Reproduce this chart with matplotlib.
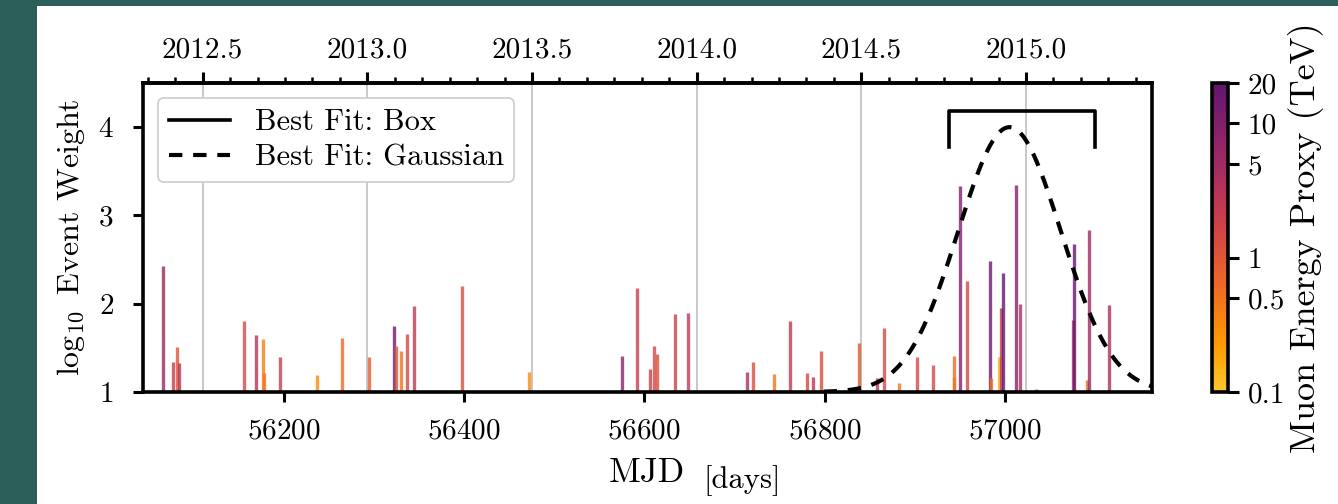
import matplotlib

matplotlib.use("Agg", force=True)
import matplotlib.pyplot as plt
import numpy as np
from matplotlib.colors import ListedColormap, LogNorm
from matplotlib.cm import ScalarMappable
from matplotlib.lines import Line2D
from matplotlib.patches import Rectangle
from matplotlib.ticker import FixedLocator, MultipleLocator, NullLocator

plt.rcParams["font.family"] = "serif"
plt.rcParams["font.serif"] = ["cmr10"]
plt.rcParams["mathtext.fontset"] = "cm"
plt.rcParams["axes.formatter.use_mathtext"] = True

# Events: arrival time, log10 weight and muon energy proxy
event_mjd = [
    56066, 56077, 56082, 56084, 56156, 56169, 56177, 56178, 56196, 56237,
    56265, 56295, 56322, 56325, 56330, 56337, 56344, 56398, 56472, 56575,
    56592, 56606, 56611, 56614, 56634, 56648, 56714, 56721, 56744, 56762,
    56780, 56787, 56796, 56838, 56858, 56866, 56882, 56902, 56920, 56943,
    56943, 56950, 56958, 56983, 56985, 56993, 56995, 56998, 57012, 57017,
    57034, 57075, 57077, 57091, 57093, 57115,
]
event_log_weight = [
    2.43, 1.34, 1.51, 1.33, 1.80, 1.65, 1.60, 1.22, 1.40, 1.19,
    1.61, 1.40, 1.75, 1.52, 1.47, 1.66, 1.97, 2.20, 1.23, 1.41,
    2.18, 1.26, 1.52, 1.43, 1.88, 1.89, 1.23, 1.34, 1.20, 1.80,
    1.21, 1.17, 1.47, 1.56, 1.16, 1.72, 1.10, 1.40, 1.31, 1.41,
    1.17, 3.33, 2.26, 2.48, 1.16, 1.40, 1.95, 2.35, 3.34, 2.00,
    1.03, 1.81, 2.68, 1.14, 2.83, 1.98,
]
event_energy_tev = [
    6.0, 2.0, 1.0, 3.0, 1.5, 3.0, 0.4, 0.5, 2.0, 0.3,
    0.6, 0.8, 15.0, 1.0, 0.5, 1.5, 2.5, 1.2, 0.3, 8.0,
    2.0, 2.0, 1.5, 1.2, 1.8, 2.5, 4.0, 1.2, 0.5, 2.5,
    1.5, 3.0, 1.2, 0.9, 3.0, 1.5, 0.5, 1.5, 1.5, 0.6,
    0.5, 10.0, 1.5, 15.0, 0.5, 0.15, 2.5, 18.0, 9.0, 4.0,
    1.0, 3.0, 18.0, 0.6, 5.0, 4.0,
]

# Best-fit flare parameters
box_start_mjd = 56938
box_end_mjd = 57100
gauss_center_mjd = 57005
gauss_sigma_days = 57
gauss_peak_log_weight = 4.0

bottom_ticks = [56200, 56400, 56600, 56800, 57000]
year_ticks = [2012.5, 2013.0, 2013.5, 2014.0, 2014.5, 2015.0]
energy_ticks = [0.1, 0.5, 1, 5, 10, 20]
energy_tick_labels = ["0.1", "0.5", "1", "5", "10", "20"]


def mjd_to_year(mjd):
    return 2000.0 + (np.asarray(mjd) - 51544.5) / 365.25


def year_to_mjd(year):
    return 51544.5 + (np.asarray(year) - 2000.0) * 365.25


cmap = ListedColormap(plt.cm.inferno(np.linspace(0.87, 0.28, 256)))
norm = LogNorm(vmin=0.1, vmax=20)

fig = plt.figure(figsize=(13.38, 5.04), dpi=100, facecolor="#2c5e5a")
fig.patches.append(
    Rectangle((37 / 1338, 0), 1, 498 / 504, transform=fig.transFigure,
              facecolor="white", edgecolor="none", zorder=-10)
)

ax = fig.add_axes([143 / 1338, 112 / 504, 1009 / 1338, 309 / 504])
ax.set_xlim(56044, 57163)
ax.set_ylim(1, 4.5)

for year in year_ticks:
    ax.axvline(year_to_mjd(year), color="#c8c8c8", lw=1.4, zorder=0)

ax.vlines(event_mjd, 1, event_log_weight,
          colors=cmap(norm(np.array(event_energy_tev))), lw=2.4, alpha=0.8, zorder=2)

# Box fit drawn as a bracket above the flare window
ax.plot([box_start_mjd, box_start_mjd, box_end_mjd, box_end_mjd],
        [3.77, 4.18, 4.18, 3.77], color="black", lw=2.6, zorder=4)

# Gaussian fit, hidden where it sits on the baseline
t = np.linspace(56044, 57163, 800)
gauss = 1 + (gauss_peak_log_weight - 1) * np.exp(-0.5 * ((t - gauss_center_mjd) / gauss_sigma_days) ** 2)
gauss = np.where(gauss - 1 > 0.004, gauss, np.nan)
ax.plot(t, gauss, color="black", lw=3.0, ls=(0, (3.2, 2.6)), zorder=4)

for side in ["left", "bottom", "right", "top"]:
    ax.spines[side].set_linewidth(2.6)
ax.xaxis.set_major_locator(FixedLocator(bottom_ticks))
ax.yaxis.set_major_locator(FixedLocator([1, 2, 3, 4]))
ax.tick_params(axis="both", which="major", direction="out", length=7, width=2.2,
               labelsize=21)
ax.tick_params(axis="x", top=False, pad=12)
ax.tick_params(axis="y", right=False, pad=14)

secax = ax.secondary_xaxis("top", functions=(mjd_to_year, year_to_mjd))
secax.xaxis.set_major_locator(FixedLocator(year_ticks))
secax.xaxis.set_minor_locator(MultipleLocator(1 / 12))
secax.xaxis.set_major_formatter(lambda v, pos: f"{v:.1f}")
secax.tick_params(which="major", length=8, width=2.2, labelsize=21, pad=6)
secax.tick_params(which="minor", length=4, width=1.8)
secax.spines["top"].set_linewidth(2.6)

ax.set_ylabel(r"$\log_{10}$ Event Weight", fontsize=23, labelpad=8)
fig.text(647 / 1338, 1 - 473 / 504, "MJD", fontsize=25, ha="center", va="center")
fig.text(742 / 1338, 1 - 481 / 504, "[days]", fontsize=22, ha="center", va="center")

legend_handles = [
    Line2D([0], [0], color="black", lw=2.6),
    Line2D([0], [0], color="black", lw=3.0, ls=(0, (3.2, 2.6))),
]
leg = ax.legend(legend_handles, ["Best Fit: Box", "Best Fit: Gaussian"],
                loc="upper left", fontsize=22, frameon=True, fancybox=True,
                framealpha=1, edgecolor="#cccccc", borderaxespad=0.5,
                handlelength=2.0, labelspacing=0.25, borderpad=0.35)
leg.get_frame().set_linewidth(1.2)

cax = fig.add_axes([1212 / 1338, 112 / 504, 16 / 1338, 309 / 504])
sm = ScalarMappable(norm=norm, cmap=cmap)
cbar = fig.colorbar(sm, cax=cax)
cbar.set_ticks(energy_ticks)
cbar.set_ticklabels(energy_tick_labels)
cax.yaxis.set_minor_locator(NullLocator())
cax.tick_params(which="major", length=8, width=2.2, labelsize=21, pad=6)
cbar.outline.set_linewidth(2.6)
cbar.set_label("Muon Energy Proxy (TeV)", fontsize=26, labelpad=2)

fig.savefig("out.png", dpi=100, facecolor=fig.get_facecolor())
